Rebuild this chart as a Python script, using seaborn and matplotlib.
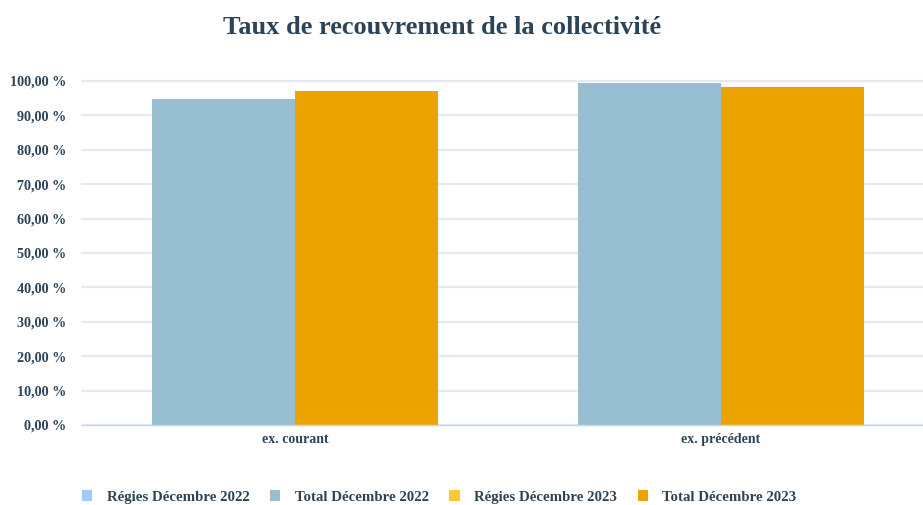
import numpy as np
import pandas as pd
import matplotlib
matplotlib.use("Agg")
import matplotlib.pyplot as plt
from matplotlib.patches import Patch
import seaborn as sns

# données
categories = ["ex. courant", "ex. précédent"]
series_names = ["Régies Décembre 2022", "Total Décembre 2022",
                "Régies Décembre 2023", "Total Décembre 2023"]
regies_2022 = [np.nan, np.nan]
total_2022 = [94.8, 99.5]
regies_2023 = [np.nan, np.nan]
total_2023 = [97.1, 98.2]
y_ticks = [0, 10, 20, 30, 40, 50, 60, 70, 80, 90, 100]

colors = {"Régies Décembre 2022": "#9ecbfa", "Total Décembre 2022": "#97bfd1",
          "Régies Décembre 2023": "#fcc838", "Total Décembre 2023": "#eca200"}
TXT = "#2b4458"

rows = []
for name, vals in zip(series_names, [regies_2022, total_2022, regies_2023, total_2023]):
    for cat, v in zip(categories, vals):
        rows.append({"categorie": cat, "serie": name, "taux": v})
df = pd.DataFrame(rows)
df_bars = df.dropna()  # les séries Régies n'ont pas de valeur

sns.set_theme(style="white")
plt.rcParams['font.family'] = ['Liberation Serif', 'DejaVu Serif']
plt.rcParams['font.weight'] = 'bold'

fig = plt.figure(figsize=(9.23, 5.05), dpi=100)
ax = fig.add_axes([82/923, 80/505, 852/923, 344/505])

sns.barplot(data=df_bars, x="categorie", y="taux", hue="serie", order=categories,
            hue_order=["Total Décembre 2022", "Total Décembre 2023"],
            palette=colors, width=0.67, saturation=1, legend=False, ax=ax,
            edgecolor="none")

ax.set_ylim(0, 100)
ax.set_xlim(-0.5, 1.5)
ax.set_yticks(y_ticks)
ax.set_yticklabels([f"{v:.2f}".replace(".", ",") + " %" for v in y_ticks])
ax.yaxis.grid(True, color="#e6e9ee", linewidth=1.6)
for gl in ax.yaxis.get_gridlines():
    gl.set_clip_on(False)
ax.set_axisbelow(True)
for s in ["left", "top", "right"]:
    ax.spines[s].set_visible(False)
ax.spines["bottom"].set_color("#ccd6eb")
ax.spines["bottom"].set_linewidth(1)
ax.set_xlabel("")
ax.set_ylabel("")

ax.set_xticks([0, 1])
ax.set_xticklabels(categories)
ax.set_xticks([-0.5, 0.5, 1.5], minor=True)
ax.tick_params(axis="x", which="major", length=0, pad=6, labelsize=10, labelcolor=TXT)
ax.tick_params(axis="x", which="minor", length=6, width=1, color="#ccd6eb", direction="out")
ax.tick_params(axis="y", length=0, pad=11, labelsize=10.2, labelcolor=TXT)

fig.text(442/923, 1 - 27/505, "Taux de recouvrement de la collectivité",
         ha="center", va="center", fontsize=19, fontweight="bold", color=TXT)

handles = [Patch(facecolor=colors[n], edgecolor="none") for n in series_names]
leg = fig.legend(handles, series_names, loc="center left", bbox_to_anchor=(82/923, 8/505),
                 ncol=4, frameon=False, fontsize=10.7, handlelength=0.7, handleheight=0.8,
                 handletextpad=0.95, columnspacing=1.4, borderaxespad=0, borderpad=0)
for t in leg.get_texts():
    t.set_color(TXT)

fig.savefig("out.png", dpi=100)
